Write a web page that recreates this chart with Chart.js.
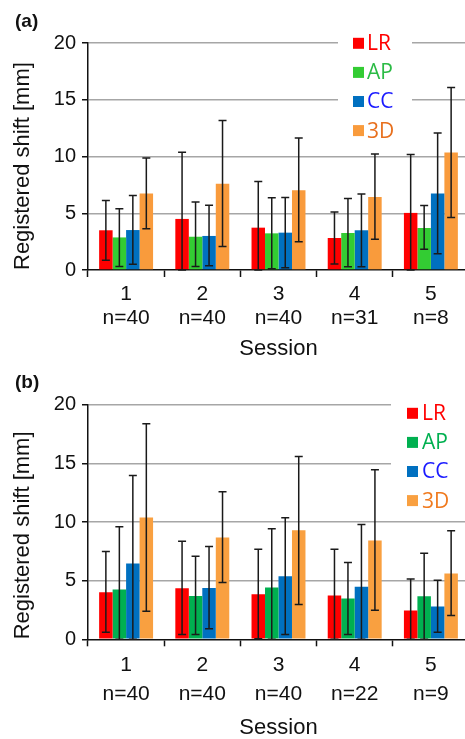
<!DOCTYPE html>
<html><head><meta charset="utf-8">
<script src="https://cdn.jsdelivr.net/npm/chart.js@4.4.1/dist/chart.umd.min.js"></script>
<style>
html,body{margin:0;padding:0;background:#fff;overflow:hidden;}
#wrap{width:465px;height:739px;overflow:hidden;position:relative;background:#fff;}
canvas{display:block;position:absolute;left:0;}
</style></head><body>
<div id="wrap">
<canvas id="ca" width="469" height="362" style="top:0;width:469px;height:362px"></canvas>
<canvas id="cb" width="469" height="377" style="top:362px;width:469px;height:377px"></canvas>
</div>
<script>
// ---- categories / tick labels ----
const sessions = ['1','2','3','4','5'];
const countsA = ['n=40','n=40','n=40','n=31','n=8'];
const countsB = ['n=40','n=40','n=40','n=22','n=9'];
const seriesNames = ['LR','AP','CC','3D'];
const yTicks = [0,5,10,15,20];

// ---- panel (a): mean values ----
const aLR = [3.50, 4.50, 3.73, 2.82, 5.03];
const aAP = [2.87, 2.93, 3.23, 3.26, 3.70];
const aCC = [3.52, 3.00, 3.29, 3.50, 6.74];
const a3D = [6.74, 7.60, 7.02, 6.44, 10.35];
// panel (a): error bar upper / lower ends
const aLRHi = [6.12, 10.38, 7.80, 5.10, 10.18];
const aAPHi = [5.40, 5.99, 6.37, 6.29, 5.68];
const aCCHi = [6.57, 5.70, 6.39, 6.70, 12.06];
const a3DHi = [9.87, 13.17, 11.64, 10.22, 16.09];
const aLRLo = [0.85, 0.00, 0.00, 0.53, 0.00];
const aAPLo = [0.30, 0.30, 0.12, 0.29, 1.82];
const aCCLo = [0.50, 0.38, 0.19, 0.28, 1.44];
const a3DLo = [3.64, 2.06, 2.48, 2.70, 4.62];

// ---- panel (b): mean values ----
const bLR = [4.01, 4.35, 3.84, 3.73, 2.45];
const bAP = [4.24, 3.70, 4.41, 3.47, 3.67];
const bCC = [6.46, 4.38, 5.38, 4.47, 2.79];
const b3D = [10.38, 8.68, 9.30, 8.42, 5.60];
// panel (b): error bar upper / lower ends
const bLRHi = [7.48, 8.36, 7.68, 7.68, 5.15];
const bAPHi = [9.59, 7.08, 9.42, 6.54, 7.34];
const bCCHi = [13.97, 7.91, 10.36, 9.79, 5.04];
const b3DHi = [18.38, 12.57, 15.59, 14.45, 9.25];
const bLRLo = [0.60, 0.40, 0.05, 0.00, 0.00];
const bAPLo = [0.00, 0.40, 0.00, 0.40, 0.00];
const bCCLo = [0.00, 0.91, 0.40, 0.00, 0.60];
const b3DLo = [2.39, 4.84, 2.96, 2.48, 2.02];

const FONT = "'Liberation Sans', Arial, Helvetica, sans-serif";
const TXT = '#111111';

const errorBarPlugin = {
  id: 'errbars',
  afterDatasetsDraw(chart) {
    const ctx = chart.ctx, ys = chart.scales.y;
    ctx.save();
    ctx.strokeStyle = '#1a1a1a';
    ctx.lineWidth = 1.5;
    chart.data.datasets.forEach((ds, i) => {
      const meta = chart.getDatasetMeta(i);
      meta.data.forEach((bar, j) => {
        const x = bar.x;
        const yh = ys.getPixelForValue(ds.errHi[j]);
        const yl = ys.getPixelForValue(ds.errLo[j]);
        ctx.beginPath();
        ctx.moveTo(x, yh); ctx.lineTo(x, yl);
        ctx.moveTo(x - 4, yh); ctx.lineTo(x + 4, yh);
        ctx.moveTo(x - 4, yl); ctx.lineTo(x + 4, yl);
        ctx.stroke();
      });
    });
    ctx.restore();
  }
};

const boxLegendPlugin = {
  id: 'boxLegend',
  afterDraw(chart, args, o) {
    const ctx = chart.ctx;
    ctx.save();
    ctx.fillStyle = '#fff';
    ctx.fillRect(o.bx, o.by, o.bw, o.bh);
    ctx.font = o.font;
    ctx.textBaseline = 'middle';
    ctx.textAlign = 'left';
    chart.data.datasets.forEach((ds, i) => {
      const cy = o.y0 + i * o.dy;
      ctx.fillStyle = ds.backgroundColor;
      ctx.fillRect(o.sx, cy - o.s / 2, o.s, o.s);
      ctx.fillStyle = ds.legendColor;
      ctx.fillText(ds.label, o.tx, cy + 1);
    });
    ctx.restore();
  }
};

function makeDatasets(means, his, los, fills, textColors) {
  return seriesNames.map((name, k) => ({
    label: name, data: means[k], errHi: his[k], errLo: los[k],
    backgroundColor: fills[k], legendColor: textColors[k],
    borderWidth: 0, categoryPercentage: 0.708, barPercentage: 1.0
  }));
}

function makeChart(id, cfg) {
  return new Chart(document.getElementById(id), {
    type: 'bar',
    data: {
      labels: sessions.map((s, i) => [s, cfg.counts[i]]),
      datasets: makeDatasets(cfg.means, cfg.his, cfg.los, cfg.fills, cfg.textColors)
    },
    plugins: [errorBarPlugin, boxLegendPlugin],
    options: {
      responsive: false, animation: false, devicePixelRatio: 1,
      layout: { padding: { left: 15, right: 0, top: 0, bottom: 0 } },
      plugins: {
        legend: { display: false },
        tooltip: { enabled: false },
        title: {
          display: true, text: cfg.panel, align: 'start', color: TXT,
          font: { family: FONT, size: 19, weight: 'bold', lineHeight: 1 },
          padding: cfg.titlePad
        },
        boxLegend: cfg.legend
      },
      scales: {
        x: {
          grid: { drawOnChartArea: false, offset: true, tickLength: 7, tickColor: TXT, tickWidth: 1.5 },
          border: { color: TXT, width: 1.5 },
          ticks: { color: TXT, font: { family: FONT, size: 21, lineHeight: cfg.xLH }, padding: cfg.xPad, maxRotation: 0, autoSkip: false },
          title: { display: true, text: 'Session', color: TXT, font: { family: FONT, size: 22, lineHeight: cfg.xTitleLH }, padding: { top: 0, bottom: 0 } },
          afterFit: s => { s.height = cfg.xHeight; }
        },
        y: {
          min: 0, max: 20,
          afterBuildTicks: s => { s.ticks = yTicks.map(v => ({ value: v })); },
          grid: {
            color: c => (c.tick && c.tick.value === 0) ? 'rgba(0,0,0,0)' : '#a6a6a6',
            lineWidth: 1.5, tickLength: 6, tickColor: TXT, tickWidth: 1.5
          },
          border: { color: TXT, width: 1.5 },
          ticks: { color: TXT, font: { family: FONT, size: 20 }, padding: 6 },
          title: { display: true, text: 'Registered shift [mm]', align: 'start', color: TXT, font: { family: FONT, size: 22, lineHeight: 1 }, padding: { top: -3, bottom: 0 } },
          afterFit: s => { s.width = 73; }
        }
      }
    }
  });
}

makeChart('ca', {
  panel: '(a)', counts: countsA,
  means: [aLR, aAP, aCC, a3D], his: [aLRHi, aAPHi, aCCHi, a3DHi], los: [aLRLo, aAPLo, aCCLo, a3DLo],
  fills: ['#ff0000', '#33cc33', '#0070c0', '#f99b3c'],
  textColors: ['#ff0000', '#2bbb45', '#1a1aff', '#e8701e'],
  titlePad: { top: 12, bottom: 12 }, xHeight: 92, xLH: 1.143, xPad: 5, xTitleLH: 1.2,
  legend: { bx: 338, by: 30, bw: 74, bh: 112, sx: 353, s: 11, tx: 367, y0: 43.3, dy: 29.1, font: "21px 'Open Sans', sans-serif" }
});

makeChart('cb', {
  panel: '(b)', counts: countsB,
  means: [bLR, bAP, bCC, b3D], his: [bLRHi, bAPHi, bCCHi, b3DHi], los: [bLRLo, bAPLo, bCCLo, b3DLo],
  fills: ['#ff0000', '#00b050', '#0070c0', '#f9a040'],
  textColors: ['#ff0000', '#00b050', '#1a1aff', '#f07a1e'],
  titlePad: { top: 11, bottom: 12.7 }, xHeight: 99.7, xLH: 1.38, xPad: 4, xTitleLH: 1.0,
  legend: { bx: 391, by: 38, bw: 80, bh: 114, sx: 407, s: 11, tx: 422, y0: 51.3, dy: 29.1, font: "21px 'Open Sans', sans-serif" }
});
</script>
</body></html>
